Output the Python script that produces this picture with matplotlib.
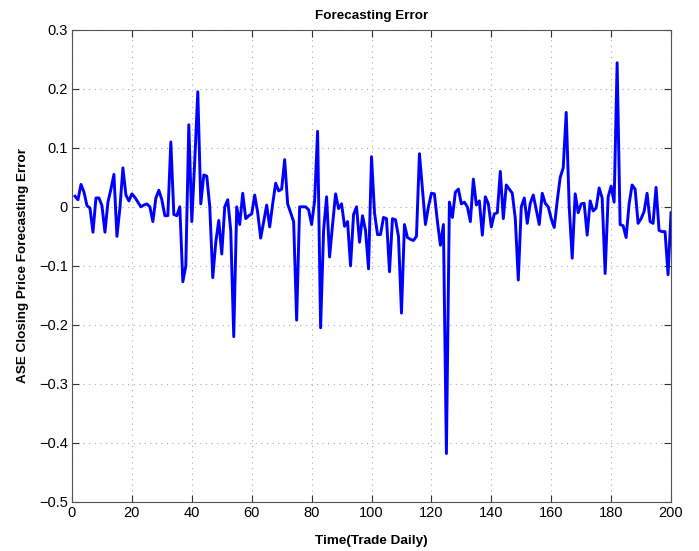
import matplotlib
matplotlib.use("Agg")
import matplotlib.pyplot as plt
import numpy as np

# forecasting error per trade day (days 1..200)
error = [
    0.018, 0.012, 0.038, 0.025, 0.002, -0.002, -0.043, 0.015, 0.015, 0.002,
    -0.043, 0.008, 0.030, 0.055, -0.050, -0.002, 0.066, 0.020, 0.010, 0.022,
    0.016, 0.008, 0.000, 0.003, 0.005, 0.000, -0.025, 0.015, 0.028, 0.012,
    -0.015, -0.015, 0.110, -0.013, -0.015, 0.000, -0.127, -0.100, 0.139, -0.025,
    0.080, 0.195, 0.005, 0.054, 0.052, 0.000, -0.120, -0.060, -0.023, -0.080,
    0.000, 0.012, -0.040, -0.220, 0.000, -0.030, 0.023, -0.020, -0.015, -0.012,
    0.020, -0.010, -0.053, -0.025, 0.003, -0.034, 0.005, 0.040, 0.027, 0.030,
    0.080, 0.005, -0.010, -0.025, -0.192, 0.000, 0.000, 0.000, -0.005, -0.030,
    0.010, 0.128, -0.205, -0.040, 0.017, -0.085, -0.030, 0.022, -0.003, 0.005,
    -0.033, -0.025, -0.100, -0.013, 0.000, -0.060, -0.015, -0.040, -0.105, 0.085,
    -0.010, -0.047, -0.047, -0.018, -0.020, -0.110, -0.020, -0.022, -0.050, -0.180,
    -0.030, -0.052, -0.055, -0.057, -0.050, 0.090, 0.030, -0.030, 0.000, 0.023,
    0.022, -0.025, -0.065, -0.030, -0.418, 0.008, -0.018, 0.025, 0.030, 0.005,
    0.008, 0.000, -0.025, 0.047, 0.003, 0.010, -0.048, 0.017, 0.005, -0.034,
    -0.012, -0.010, 0.060, -0.020, 0.037, 0.030, 0.023, -0.020, -0.124, 0.000,
    0.015, -0.028, 0.006, 0.020, -0.005, -0.030, 0.023, 0.006, 0.000, -0.020,
    -0.035, 0.010, 0.050, 0.066, 0.160, 0.000, -0.087, 0.022, -0.010, 0.005,
    0.006, -0.048, 0.010, -0.007, -0.002, 0.032, 0.015, -0.113, 0.017, 0.035,
    0.008, 0.244, -0.030, -0.032, -0.052, 0.005, 0.037, 0.030, -0.028, -0.020,
    -0.008, 0.023, -0.025, -0.028, 0.033, -0.040, -0.042, -0.042, -0.115, -0.010,
]
days = np.arange(1, len(error) + 1)

x_ticks = np.arange(0, 201, 20)
y_ticks = [-0.5, -0.4, -0.3, -0.2, -0.1, 0, 0.1, 0.2, 0.3]
y_labels = ["\u22120.5", "\u22120.4", "\u22120.3", "\u22120.2", "\u22120.1", "0", "0.1", "0.2", "0.3"]

plt.rcParams["font.family"] = ["Liberation Sans", "DejaVu Sans"]

fig = plt.figure(figsize=(6.99, 5.51), dpi=100)
ax = fig.add_axes([0.103, 0.089, 0.857, 0.857])

ax.plot(days, error, color="#0000ff", linewidth=2.1)

ax.set_xlim(0, 200)
ax.set_ylim(-0.5, 0.3)
ax.set_xticks(x_ticks)
ax.set_yticks(y_ticks)
ax.set_yticklabels(y_labels)
ax.tick_params(direction="in", top=True, right=True, labelsize=10.5, length=5,
               width=0.8, color="#333333", pad=3)
ax.grid(True, linestyle=(0, (1, 4)), color="#aaaaaa", linewidth=0.8)
for s in ax.spines.values():
    s.set_color("#555555")
    s.set_linewidth(0.8)

ax.set_title("Forecasting Error", fontsize=9.7, fontweight="bold", pad=8)
ax.set_xlabel("Time(Trade Daily)", fontsize=9.7, fontweight="bold", labelpad=11)
ax.set_ylabel("ASE Closing Price Forecasting Error", fontsize=9.7, fontweight="bold", labelpad=7)

fig.savefig("out.png", dpi=100)
